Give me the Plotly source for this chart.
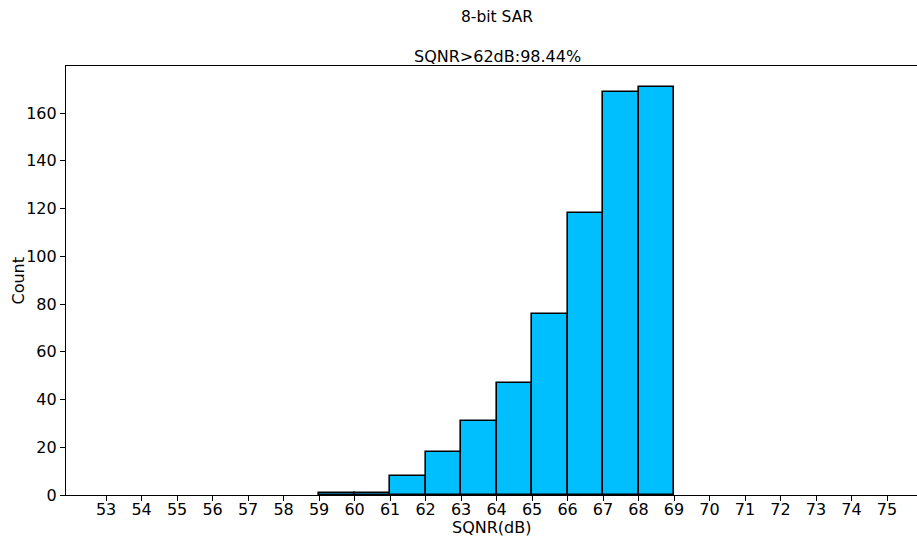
import plotly.graph_objects as go

# Histogram data (bin left edges, width 1 dB)
bin_left = [59, 60, 61, 62, 63, 64, 65, 66, 67, 68]
counts = [1, 1, 8, 18, 31, 47, 76, 118, 169, 171]
bin_width = 1
x_ticks = list(range(53, 76))
y_ticks = [0, 20, 40, 60, 80, 100, 120, 140, 160]

title_text = "8-bit SAR"
subtitle_text = "SQNR>62dB:98.44%"
x_label = "SQNR(dB)"
y_label = "Count"

centers = [b + bin_width / 2 for b in bin_left]

fig = go.Figure()
fig.add_trace(go.Bar(
    x=centers, y=counts, width=[bin_width] * len(counts),
    marker=dict(color="#00BFFF", line=dict(color="black", width=1.6)),
    hoverinfo="x+y",
))

font = "DejaVu Sans, Arial, sans-serif"
fig.update_layout(
    width=917, height=537,
    margin=dict(l=66, r=0, t=66, b=42),
    paper_bgcolor="white", plot_bgcolor="white",
    showlegend=False,
    font=dict(family=font, size=16, color="black"),
    bargap=0,
    annotations=[
        dict(text=title_text, x=0.5065, y=1, xref="paper", yref="paper",
             yshift=49, showarrow=False, font=dict(size=15.5, family=font),
             xanchor="center", yanchor="middle"),
        dict(text=subtitle_text, x=0.5065, y=1, xref="paper", yref="paper",
             yshift=10, showarrow=False, font=dict(size=16, family=font),
             xanchor="center", yanchor="middle"),
        dict(text=x_label, x=0.5, y=0, xref="paper", yref="paper",
             yshift=-32, showarrow=False, font=dict(size=16, family=font),
             xanchor="center", yanchor="middle"),
        dict(text=y_label, x=0, y=0.5, xref="paper", yref="paper",
             xshift=-48, showarrow=False, textangle=-90,
             font=dict(size=16, family=font),
             xanchor="center", yanchor="middle"),
    ],
)
fig.update_xaxes(
    range=[51.87, 75.845], tickmode="array", tickvals=x_ticks,
    ticktext=[str(v) for v in x_ticks],
    showgrid=False, zeroline=False,
    showline=True, linecolor="black", linewidth=1.2, mirror=True,
    ticks="outside", ticklen=5, tickwidth=1, tickcolor="black",
    tickfont=dict(size=16), ticklabelstandoff=-5,
)
fig.update_yaxes(
    range=[0, 179.7], tickmode="array", tickvals=y_ticks,
    showgrid=False, zeroline=False,
    showline=True, linecolor="black", linewidth=1.2,
    ticks="outside", ticklen=5, tickwidth=1, tickcolor="black",
    tickfont=dict(size=16),
)

fig.write_html("out.html")
